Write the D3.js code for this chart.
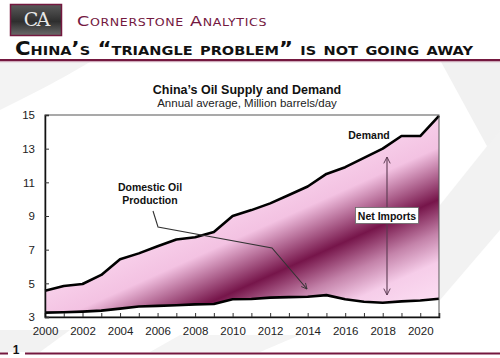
<!DOCTYPE html>
<html><head><meta charset="utf-8">
<script src="https://cdn.jsdelivr.net/npm/d3@7"></script>
<style>
html,body{margin:0;padding:0;background:#fff;}
svg{display:block;}
</style></head>
<body>
<svg id="c" width="500" height="358"></svg>
<script>
const years = [2000,2001,2002,2003,2004,2005,2006,2007,2008,2009,2010,2011,2012,2013,2014,2015,2016,2017,2018,2019,2020,2021];
const demand = [4.56,4.84,4.96,5.5,6.43,6.78,7.2,7.6,7.74,8.05,9.0,9.35,9.75,10.25,10.75,11.5,11.9,12.45,13.0,13.75,13.75,14.95];
const production = [3.26,3.28,3.32,3.38,3.5,3.62,3.66,3.7,3.75,3.77,4.05,4.07,4.15,4.18,4.2,4.3,4.05,3.91,3.85,3.93,3.98,4.08];
const yTicks = [3,5,7,9,11,13,15];
const xLabels = [2000,2002,2004,2006,2008,2010,2012,2014,2016,2018,2020];

const svg = d3.select("#c");
const maroon = "#74183f";

// faint watermark shapes
svg.append("path").attr("d","M0,62 L90,62 C60,80 30,95 0,110 Z").attr("fill","#f3f3f3");
svg.append("path").attr("d","M440,60 L500,60 L500,170 Z").attr("fill","#f1f1f1");
svg.append("path").attr("d","M440,205 L500,130 L500,230 L440,300 Z").attr("fill","#f2f2f2");
svg.append("path").attr("d","M0,330 L70,330 L40,352 L0,352 Z").attr("fill","#f2f2f2");
svg.append("path").attr("d","M180,335 L300,335 L260,352 L150,352 Z").attr("fill","#f4f4f4");

// header logo
const lg = svg.append("defs");
const logoGrad = lg.append("linearGradient").attr("id","logoG").attr("x1",0).attr("y1",0).attr("x2",0).attr("y2",1);
logoGrad.append("stop").attr("offset","0%").attr("stop-color","#5a5a5a");
logoGrad.append("stop").attr("offset","55%").attr("stop-color","#2e2e2e");
logoGrad.append("stop").attr("offset","100%").attr("stop-color","#6a6a6a");
svg.append("rect").attr("x",10.5).attr("y",4.5).attr("width",51).attr("height",31)
  .attr("fill","url(#logoG)").attr("stroke",maroon).attr("stroke-width",1.5);
svg.append("text").attr("x",36).attr("y",26).attr("text-anchor","middle")
  .attr("font-family","DejaVu Serif").attr("font-size",19).attr("fill","#e8e8e8")
  .attr("letter-spacing",-2).text("CA");

svg.append("text").attr("x",77).attr("y",26)
  .attr("font-family","DejaVu Sans").attr("font-size",14).attr("fill",maroon)
  .attr("font-variant","small-caps").attr("letter-spacing",0.5)
  .attr("textLength",190).attr("lengthAdjust","spacingAndGlyphs")
  .text("Cornerstone Analytics");

svg.append("text").attr("x",15).attr("y",55)
  .attr("font-family","DejaVu Sans").attr("font-weight","bold").attr("font-size",19).attr("fill","#111")
  .attr("font-variant","small-caps")
  .attr("textLength",458).attr("lengthAdjust","spacingAndGlyphs")
  .text("China\u2019s \u201ctriangle problem\u201d is not going away");

svg.append("rect").attr("x",0).attr("y",59).attr("width",500).attr("height",2.2).attr("fill",maroon);
svg.append("rect").attr("x",0).attr("y",61.2).attr("width",500).attr("height",1).attr("fill","#c9a0b2");

// footer
svg.append("rect").attr("x",0).attr("y",352.5).attr("width",8).attr("height",2).attr("fill",maroon);
svg.append("rect").attr("x",25).attr("y",352.5).attr("width",475).attr("height",2).attr("fill",maroon);
svg.append("text").attr("x",16).attr("y",354).attr("text-anchor","middle")
  .attr("font-family","Liberation Sans").attr("font-weight","bold").attr("font-size",12).attr("fill","#111").text("1");

// chart titles
svg.append("text").attr("x",247).attr("y",94).attr("text-anchor","middle")
  .attr("font-family","Liberation Sans").attr("font-weight","bold").attr("font-size",12.5).attr("fill","#111")
  .text("China\u2019s Oil Supply and Demand");
svg.append("text").attr("x",247).attr("y",107).attr("text-anchor","middle")
  .attr("font-family","Liberation Sans").attr("font-size",11.5).attr("fill","#222")
  .text("Annual average, Million barrels/day");

// plot
const x = d3.scaleLinear().domain([2000,2021]).range([45,439]);
const y = d3.scaleLinear().domain([3,15]).range([317,115]);

svg.append("rect").attr("x",45).attr("y",115).attr("width",394).attr("height",202).attr("fill","#fff");

const defs = svg.select("defs");
const g = defs.append("linearGradient").attr("id","areaG").attr("gradientUnits","userSpaceOnUse")
  .attr("x1",300-0.41*95).attr("y1",262-0.91*95).attr("x2",300+0.41*95).attr("y2",262+0.91*95);
[[0,"#fad6ee"],[0.25,"#f3c2e2"],[0.5,"#76154a"],[0.66,"#c483aa"],[0.8,"#f6cde9"],[1,"#fcdff3"]].forEach(s=>
  g.append("stop").attr("offset",s[0]).attr("stop-color",s[1]));

const data = years.map((yr,i)=>({yr, d:demand[i], p:production[i]}));
svg.append("path").datum(data)
  .attr("d", d3.area().x(v=>x(v.yr)).y0(v=>y(v.p)).y1(v=>y(v.d)))
  .attr("fill","url(#areaG)");

const line = d3.line().x(v=>x(v[0])).y(v=>y(v[1]));
svg.append("path").datum(years.map((yr,i)=>[yr,demand[i]])).attr("d",line)
  .attr("fill","none").attr("stroke","#000").attr("stroke-width",2.6).attr("stroke-linejoin","round");
svg.append("path").datum(years.map((yr,i)=>[yr,production[i]])).attr("d",line)
  .attr("fill","none").attr("stroke","#000").attr("stroke-width",2.6).attr("stroke-linejoin","round");

// frame
svg.append("rect").attr("x",45).attr("y",115).attr("width",394).attr("height",202)
  .attr("fill","none").attr("stroke","#555").attr("stroke-width",1);

// axes
const xAxis = d3.axisBottom(x).tickValues(years).tickSize(-4).tickFormat(d=> xLabels.includes(d) ? d : "").tickPadding(10);
const gx = svg.append("g").attr("transform","translate(0,317)").call(xAxis);
gx.select(".domain").attr("stroke","#111").attr("stroke-width",1.5);
gx.selectAll("line").attr("stroke","#333");
gx.selectAll("text").attr("font-family","Liberation Sans").attr("font-size",11.5).attr("fill","#222");

const yAxis = d3.axisLeft(y).tickValues(yTicks).tickSize(-4).tickPadding(10);
const gy = svg.append("g").attr("transform","translate(45,0)").call(yAxis);
gy.select(".domain").attr("stroke","#111").attr("stroke-width",1.5);
gy.selectAll("line").attr("stroke","#333");
gy.selectAll("text").attr("font-family","Liberation Sans").attr("font-size",11.5).attr("fill","#222");

// arrows
const mk = defs.append("marker").attr("id","arr").attr("viewBox","0 0 10 10").attr("refX",9).attr("refY",5)
  .attr("markerWidth",7).attr("markerHeight",7).attr("orient","auto-start-reverse").attr("markerUnits","userSpaceOnUse");
mk.append("path").attr("d","M1,1 L9,5 L1,9").attr("fill","none").attr("stroke","#333").attr("stroke-width",1.2);
const mk2 = defs.append("marker").attr("id","arr2").attr("viewBox","0 0 10 10").attr("refX",9).attr("refY",5)
  .attr("markerWidth",8).attr("markerHeight",8).attr("orient","auto-start-reverse").attr("markerUnits","userSpaceOnUse");
mk2.append("path").attr("d","M1,1 L9,5 L1,9").attr("fill","none").attr("stroke","#5a3a50").attr("stroke-width",1.2);

svg.append("polyline").attr("points","153,211 158,227 272,248 307,289")
  .attr("fill","none").attr("stroke","#333").attr("stroke-width",1.1).attr("marker-end","url(#arr)");

svg.append("line").attr("x1",387).attr("x2",387).attr("y1",157).attr("y2",295)
  .attr("stroke","#5a3a50").attr("stroke-width",1.1)
  .attr("marker-start","url(#arr2)").attr("marker-end","url(#arr2)");

// labels
const lab = (t,xx,yy)=>svg.append("text").attr("x",xx).attr("y",yy).attr("text-anchor","middle")
  .attr("font-family","Liberation Sans").attr("font-weight","bold").attr("font-size",10.5).attr("fill","#111").text(t);
lab("Domestic Oil",150,191);
lab("Production",150,204);
lab("Demand",369,139);
svg.append("rect").attr("x",355.5).attr("y",207.5).attr("width",63).attr("height",16)
  .attr("fill","#fff").attr("stroke","#666").attr("stroke-width",0.8);
lab("Net Imports",387,219.5);
</script>
</body></html>
